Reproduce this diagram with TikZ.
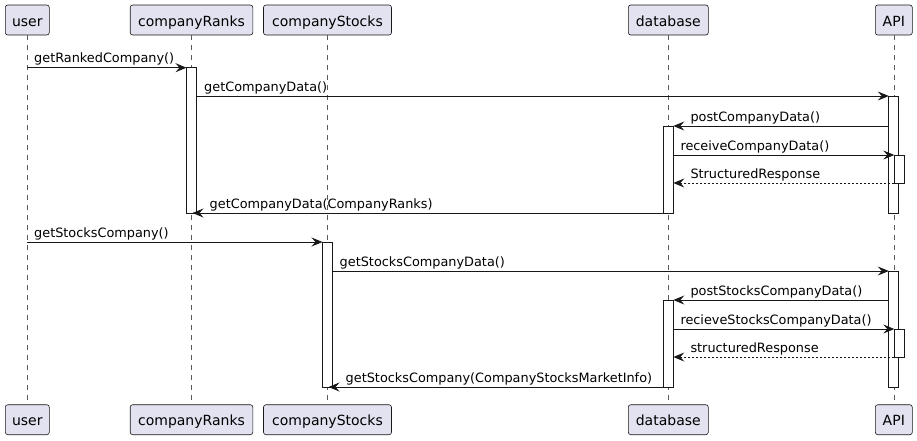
\documentclass[tikz,border=0pt]{standalone}
\usepackage{fontspec}
\setmainfont{DejaVu Sans}
\usetikzlibrary{arrows.meta}
\definecolor{partfill}{HTML}{E2E2F0}
\definecolor{partdraw}{HTML}{181818}
\tikzset{
  part/.style={draw=partdraw, fill=partfill, line width=0.6pt, rounded corners=2.5pt,
    minimum height=30pt, inner sep=0pt, text height=13pt, text depth=1pt,
    font=\fontsize{14}{16}\selectfont},
  life/.style={draw=black!65, line width=0.6pt, dash pattern=on 5pt off 5pt},
  act/.style={draw=partdraw, fill=white, line width=0.9pt, minimum width=10pt, inner sep=0pt, outer sep=0pt, anchor=north},
  msg/.style={draw=partdraw, line width=0.9pt, -{Stealth[length=11pt,width=9pt,inset=4pt]}},
  reply/.style={msg, dash pattern=on 2pt off 2pt},
  lbl/.style={anchor=base west, inner sep=0pt, font=\fontsize{12.85}{15}\selectfont}
}
\begin{document}
\begin{tikzpicture}[x=1pt,y=-1pt]
\useasboundingbox (0,0) rectangle (917,440);
% participants
\node[part, minimum width=44pt]    (userT) at (27.3,20) {user};
\node[part, minimum width=122.6pt] (rankT) at (191.5,20) {companyRanks};
\node[part, minimum width=128pt]   (stockT) at (327.5,20) {companyStocks};
\node[part, minimum width=80pt]    (dbT) at (668.3,20) {database};
\node[part, minimum width=37pt]    (apiT) at (893.8,20) {API};
\node[part, minimum width=44pt]    (userB) at (27.3,419.7) {user};
\node[part, minimum width=122.6pt] (rankB) at (191.5,419.7) {companyRanks};
\node[part, minimum width=128pt]   (stockB) at (327.5,419.7) {companyStocks};
\node[part, minimum width=80pt]    (dbB) at (668.3,419.7) {database};
\node[part, minimum width=37pt]    (apiB) at (893.8,419.7) {API};
% lifelines
\foreach \p in {user,rank,stock,db,api}{
  \draw[life] (\p T.south) -- (\p B.north);
}
% activations
\node[act, minimum height=145.3pt] (aR1) at (191.5,67.7) {};
\node[act, minimum height=117pt]   (aA1) at (893.8,96) {};
\node[act, minimum height=87pt]    (aD1) at (668.3,126) {};
\node[act, minimum height=28pt]    (aA1n) at (899.3,155) {};
\node[act, minimum height=145pt]   (aS) at (327.5,242) {};
\node[act, minimum height=116pt]   (aA2) at (893.8,271) {};
\node[act, minimum height=87pt]    (aD2) at (668.3,300) {};
\node[act, minimum height=28pt]    (aA2n) at (899.3,329) {};
% reference coordinates
\coordinate (rankEnd) at (192.5,213);
\coordinate (stockEnd) at (328.5,387);
% messages, block 1
\draw[msg] (userT.south |- 0,67.7) -- (aR1.north west);
\node[lbl] (l1) at (34,62.7) {getRankedCompany()};
\draw[msg] (aR1.east |- aA1.north) -- (aA1.north west);
\node[lbl] (l2) at (204,91) {getCompanyData()};
\draw[msg] (aA1.west |- aD1.north) -- (aD1.north east);
\node[lbl] (l3) at (690.3,121) {postCompanyData()};
\draw[msg] (aD1.east |- aA1n.north) -- (aA1n.north west);
\node[lbl] (l4) at (680.3,150) {receiveCompanyData()};
\draw[reply] (aA1n.south west) -- (aD1.east |- aA1n.south);
\node[lbl] (l5) at (690.3,178) {StructuredResponse};
\draw[msg] (aD1.south west) -- (rankEnd);
\node[lbl] (l6) at (209.5,208) {getCompanyData(CompanyRanks)};
% messages, block 2
\draw[msg] (userT.south |- aS.north) -- (aS.north west);
\node[lbl] (l7) at (34,237) {getStocksCompany()};
\draw[msg] (aS.east |- aA2.north) -- (aA2.north west);
\node[lbl] (l8) at (339.5,266) {getStocksCompanyData()};
\draw[msg] (aA2.west |- aD2.north) -- (aD2.north east);
\node[lbl] (l9) at (690.3,295) {postStocksCompanyData()};
\draw[msg] (aD2.east |- aA2n.north) -- (aA2n.north west);
\node[lbl] (l10) at (680.3,324) {recieveStocksCompanyData()};
\draw[reply] (aA2n.south west) -- (aD2.east |- aA2n.south);
\node[lbl] (l11) at (690.3,352) {structuredResponse};
\draw[msg] (aD2.south west) -- (stockEnd);
\node[lbl] (l12) at (345.5,382) {getStocksCompany(CompanyStocksMarketInfo)};
\end{tikzpicture}
\end{document}
